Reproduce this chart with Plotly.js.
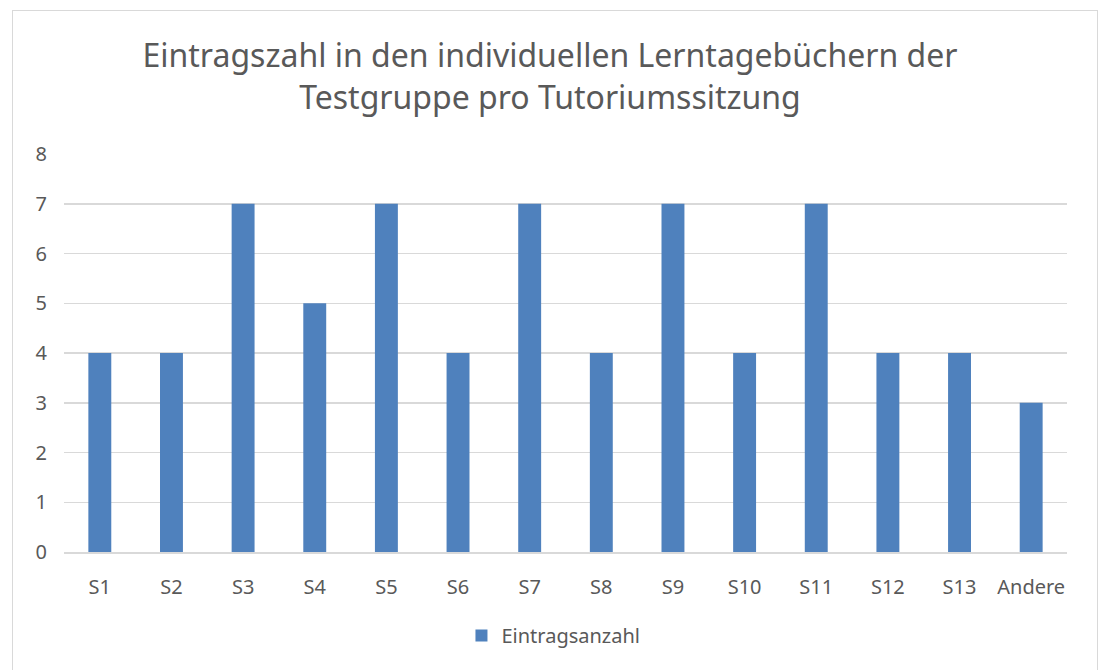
<!DOCTYPE html>
<html><head><meta charset="utf-8">
<script src="https://cdn.plot.ly/plotly-3.0.1.min.js"></script>
<style>
html,body{margin:0;padding:0;background:#fff;}
#wrap{position:relative;width:1100px;height:670px;overflow:hidden;}
#chart{width:1100px;height:670px;}
#frame{position:absolute;left:12px;top:10px;width:1084px;height:700px;border:1px solid #d9d9d9;pointer-events:none;}
</style></head>
<body><div id="wrap"><div id="chart"></div><div id="frame"></div></div>
<script>
const categories = ["S1","S2","S3","S4","S5","S6","S7","S8","S9","S10","S11","S12","S13","Andere"];
const eintragsanzahl = [4,4,7,5,7,4,7,4,7,4,7,4,4,3];
const seriesName = "Eintragsanzahl";
const titleText = "Eintragszahl in den individuellen Lerntagebüchern der<br>Testgruppe pro Tutoriumssitzung";
const yTicks = [0,1,2,3,4,5,6,7,8];

const font = "Noto Sans, Open Sans, sans-serif";
Plotly.newPlot("chart", [{
  type: "bar",
  x: categories,
  y: eintragsanzahl,
  name: seriesName,
  marker: {color: "#4f81bd"},
  width: 0.32,
  showlegend: true
}], {
  width: 1100, height: 670,
  margin: {l: 64, r: 33, t: 154, b: 118},
  paper_bgcolor: "#fff", plot_bgcolor: "#fff",
  font: {family: font, color: "#595959", size: 20},
  title: {text: titleText, font: {family: font, size: 32, color: "#595959"}, x: 0.5, xanchor: "center", y: 0.9, yanchor: "middle", yref: "container"},
  xaxis: {type: "category", showgrid: false, showline: true, linecolor: "#d9d9d9", linewidth: 1.5, ticks: "", ticklabelstandoff: 16, tickfont: {size: 20, color: "#595959"}},
  yaxis: {range: [0, 8], tickvals: yTicks, showgrid: true, gridcolor: "#d9d9d9", gridwidth: 1.5, zeroline: false, showline: false, ticks: "", ticklabelstandoff: 16, tickfont: {size: 20, color: "#595959"}},
  legend: {orientation: "h", x: 0.488, xanchor: "center", y: -0.21, yanchor: "middle", font: {size: 20, color: "#595959"}, itemwidth: 30},
  bargap: 0.68
}, {displayModeBar: false, staticPlot: true});
</script></body></html>
